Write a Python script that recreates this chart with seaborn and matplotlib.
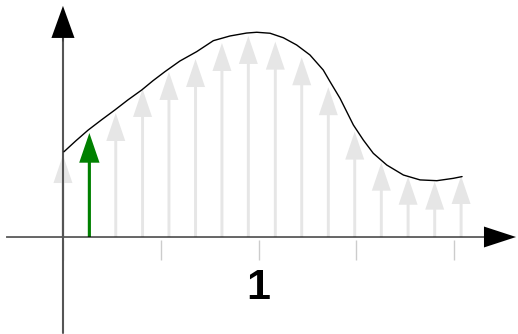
import numpy as np
import pandas as pd
import matplotlib
matplotlib.use('Agg')
import matplotlib.pyplot as plt
import seaborn as sns

# sample positions and heights of the arrows (tips)
stem_x = [0.0, 0.135, 0.27, 0.407, 0.542, 0.678, 0.813, 0.948,
          1.086, 1.221, 1.357, 1.492, 1.628, 1.765, 1.901, 2.036]
stem_y = [0.419, 0.532, 0.634, 0.757, 0.844, 0.910, 0.992, 1.028,
          0.999, 0.919, 0.766, 0.539, 0.380, 0.308, 0.283, 0.312]
highlight = 1  # index of the green arrow

# the smooth function drawn over the arrows
curve_x = [0.005, 0.066, 0.129, 0.197, 0.266, 0.332, 0.403, 0.460, 0.522, 0.598,
           0.684, 0.769, 0.854, 0.939, 0.991, 1.059, 1.127, 1.195, 1.263, 1.331,
           1.366, 1.417, 1.451, 1.485, 1.536, 1.587, 1.656, 1.741, 1.826, 1.912,
           1.996, 2.041]
curve_y = [0.436, 0.492, 0.547, 0.599, 0.650, 0.701, 0.752, 0.799, 0.846, 0.900,
           0.948, 1.004, 1.028, 1.043, 1.047, 1.042, 1.019, 0.982, 0.931, 0.854,
           0.794, 0.709, 0.641, 0.573, 0.496, 0.428, 0.368, 0.317, 0.292, 0.288,
           0.300, 0.309]

tick_x = [0.0, 0.5, 1.0, 1.5, 2.0]
tick_labels = {1.0: '1'}

sns.set_style('white')
plt.rcParams['font.family'] = ['Liberation Sans', 'DejaVu Sans']

fig = plt.figure(figsize=(5.18, 3.34), dpi=100)
ax = fig.add_axes([0, 0, 1, 1])
ax.set_xlim(-0.322, 2.327)
ax.set_ylim(-0.496, 1.212)
ax.axis('off')

# axes with arrow heads
ax.arrow(-0.291, 0, 2.608, 0, width=0.006, head_width=0.107, head_length=0.164,
         length_includes_head=True, color='black', lw=0, zorder=3)
ax.plot([0, 0], [-0.491, 1.02], color='#555555', lw=1.5, zorder=3)
ax.arrow(0, 1.0, 0, 0.182, width=0.002, head_width=0.118, head_length=0.164,
         length_includes_head=True, color='black', lw=0, zorder=3)

# tick marks below the axis
ax.vlines(tick_x, -0.118, -0.015, color='#cccccc', lw=1)
for t, lab in tick_labels.items():
    ax.text(t, -0.262, lab, ha='center', va='center', fontsize=31,
            fontweight='bold', color='black')

# arrows
for i, (x, y) in enumerate(zip(stem_x, stem_y)):
    if i == highlight:
        ax.arrow(x, 0, 0, y, width=0.016, head_width=0.104, head_length=0.152,
                 length_includes_head=True, color='green', lw=0, zorder=2)
    else:
        ax.arrow(x, 0, 0, y, width=0.015, head_width=0.097, head_length=0.143,
                 length_includes_head=True, color='#e6e6e6', lw=0, zorder=1)

df = pd.DataFrame({'x': curve_x, 'y': curve_y})
sns.lineplot(data=df, x='x', y='y', ax=ax, color='black', lw=1.0, sort=False, zorder=4)

fig.savefig('out.png', dpi=100)
